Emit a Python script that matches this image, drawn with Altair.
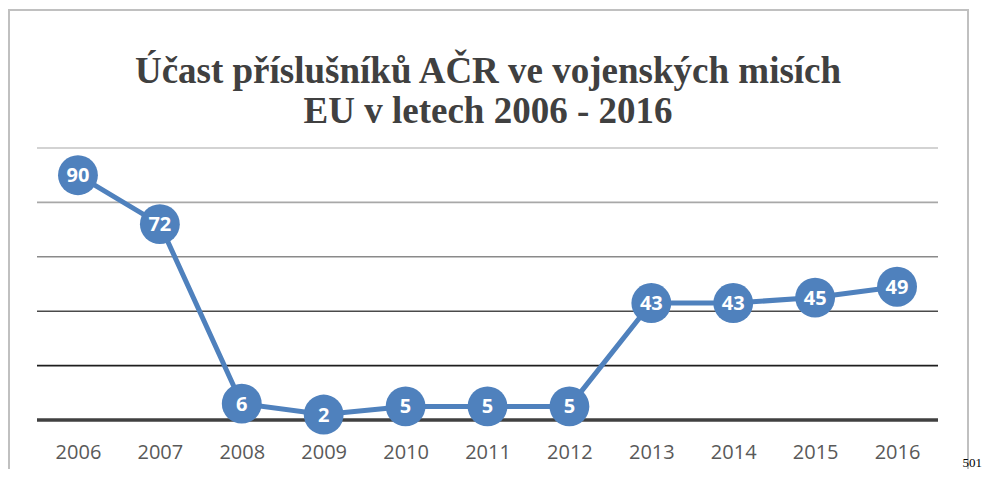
import altair as alt
import pandas as pd

years = ["2006", "2007", "2008", "2009", "2010", "2011", "2012", "2013", "2014", "2015", "2016"]
counts = [90, 72, 6, 2, 5, 5, 5, 43, 43, 45, 49]
grid_values = [20, 40, 60, 80, 100]
grid_colors = ["#1e1e1e", "#4a4a4a", "#8a8a8a", "#a8a8a8", "#c4c4c4"]
title_lines = ["Účast příslušníků AČR ve vojenských misích", "EU v letech 2006 - 2016"]
page_number = ["501"]

df = pd.DataFrame({"year": years, "count": counts})
grid_df = pd.DataFrame({"v": grid_values})
base_df = pd.DataFrame({"v": [0]})

W, H = 901, 272
BLUE = "#4F81BD"

xenc = alt.X("year:O", title=None,
             scale=alt.Scale(type="point", padding=0.5),
             axis=alt.Axis(domain=False, ticks=False, labelAngle=0, labelFont="Open Sans",
                           labelFontSize=20, labelColor="#595959", labelPadding=22,
                           grid=False))
yscale = alt.Scale(domain=[0, 100], nice=False, zero=True)

border = alt.Chart(pd.DataFrame({"a": [0]})).mark_rect(
    fill=None, fillOpacity=0, stroke="#c0c0c0", strokeWidth=2
).encode(x=alt.value(-28), x2=alt.value(931), y=alt.value(-138), y2=alt.value(340))

grid = alt.Chart(grid_df).mark_rule(strokeWidth=1.6).encode(
    y=alt.Y("v:Q", scale=yscale, axis=None),
    color=alt.Color("v:O", scale=alt.Scale(domain=grid_values, range=grid_colors), legend=None),
)
baseline = alt.Chart(base_df).mark_rule(strokeWidth=3.5, color="#404040").encode(
    y=alt.Y("v:Q", scale=yscale, axis=None)
)

line = alt.Chart(df).mark_line(color=BLUE, strokeWidth=5).encode(
    x=xenc, y=alt.Y("count:Q", scale=yscale, axis=None)
)
pts = alt.Chart(df).mark_circle(color=BLUE, opacity=1, size=1590).encode(
    x=xenc, y=alt.Y("count:Q", scale=yscale, axis=None)
)
labels = alt.Chart(df).mark_text(color="white", font="Open Sans", fontWeight="bold",
                                 fontSize=20, baseline="middle", align="center", dy=1).encode(
    x=xenc, y=alt.Y("count:Q", scale=yscale, axis=None), text="count:Q"
)

t1 = alt.Chart(pd.DataFrame({"t": [title_lines[0]]})).mark_text(
    font="Liberation Serif", fontWeight="bold", fontSize=37, color="#404040",
    align="center", baseline="alphabetic"
).encode(text="t:N", x=alt.value(451), y=alt.value(-65))
t2 = alt.Chart(pd.DataFrame({"t": [title_lines[1]]})).mark_text(
    font="Liberation Serif", fontWeight="bold", fontSize=37, color="#404040",
    align="center", baseline="alphabetic"
).encode(text="t:N", x=alt.value(451), y=alt.value(-25))
pn = alt.Chart(pd.DataFrame({"t": page_number})).mark_text(
    font="Liberation Serif", fontSize=13, color="black", align="right", baseline="alphabetic"
).encode(text="t:N", x=alt.value(945), y=alt.value(319))

chart = alt.layer(border, grid, baseline, line, pts, labels, t1, t2, pn).properties(
    width=W, height=H,
    autosize=alt.AutoSizeParams(type="none"),
    padding={"left": 29, "top": 140, "right": 46, "bottom": 49},
).configure(background="white").configure_view(stroke=None, strokeWidth=0)

chart.save("out.html", embed_options={"renderer": "svg", "actions": False})
